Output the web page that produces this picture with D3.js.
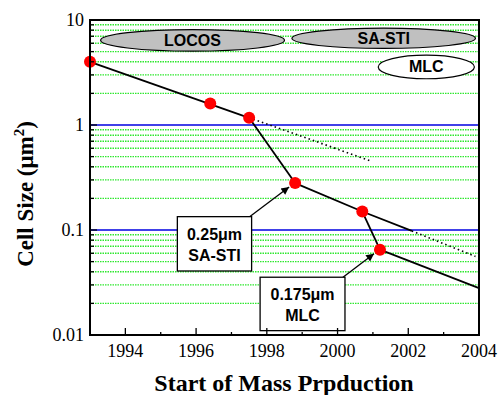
<!DOCTYPE html>
<meta charset="utf-8">
<script src="https://d3js.org/d3.v7.min.js"></script>
<style>
  body { margin: 0; background: #fff; }
  svg text { font-family: "Liberation Serif", "Times New Roman", serif; }
  .lab { font-family: "Liberation Sans", Arial, sans-serif; font-weight: bold; }
</style>
<body>
<div id="chart"></div>
<script>
// data
var years = [1993, 1996.4, 1997.5, 1998.8, 2000.7, 2001.2];
var cellSize = [4.0, 1.6, 1.17, 0.28, 0.15, 0.065];

// line segments (year, cell size)
var locosLine = [[1993, 4.0], [1997.5, 1.17]];
var locosTrend = [[1997.5, 1.17], [2000.9, 0.46]];
var step1 = [[1997.5, 1.17], [1998.8, 0.28]];
var sastiLine = [[1998.8, 0.28], [2000.7, 0.15], [2002.1, 0.098]];
var sastiTrend = [[2002.1, 0.098], [2003.9, 0.056]];
var step2 = [[2000.7, 0.15], [2001.2, 0.065]];
var mlcLine = [[2001.2, 0.065], [2004, 0.028]];

var xTicks = [1994, 1996, 1998, 2000, 2002, 2004];
var yTicks = [0.01, 0.1, 1, 10];

var margin = {top: 20, right: 21, bottom: 60, left: 90},
    width = 500 - margin.left - margin.right,
    height = 395 - margin.top - margin.bottom;

var svg = d3.select("#chart").append("svg")
    .attr("width", 500).attr("height", 395);
var g = svg.append("g")
    .attr("transform", "translate(" + margin.left + "," + margin.top + ")");

var x = d3.scaleLinear().domain([1993, 2004]).range([0, width]);
var y = d3.scaleLog().domain([0.01, 10]).range([height, 0]);

// minor grid (green dotted) and decade lines (blue)
var minor = [];
[0.01, 0.1, 1].forEach(function(d) {
  for (var m = 2; m <= 9; m++) minor.push(m * d);
});
g.selectAll(".gmin").data(minor).enter().append("line")
  .attr("x1", 0).attr("x2", width)
  .attr("y1", function(d) { return y(d); }).attr("y2", function(d) { return y(d); })
  .attr("stroke", "#2fe82f").attr("stroke-width", 1.4)
  .attr("stroke-dasharray", "1.5,1");
g.selectAll(".gmaj").data([0.1, 1]).enter().append("line")
  .attr("x1", 0).attr("x2", width)
  .attr("y1", function(d) { return y(d); }).attr("y2", function(d) { return y(d); })
  .attr("stroke", "#0000e0").attr("stroke-width", 1.4);

// lines
var line = d3.line()
  .x(function(d) { return x(d[0]); })
  .y(function(d) { return y(d[1]); });

[locosLine, step1, sastiLine, step2, mlcLine].forEach(function(s) {
  g.append("path").datum(s).attr("d", line)
    .attr("fill", "none").attr("stroke", "#000").attr("stroke-width", 1.8);
});
[locosTrend, sastiTrend].forEach(function(s) {
  g.append("path").datum(s).attr("d", line)
    .attr("fill", "none").attr("stroke", "#000").attr("stroke-width", 1.6)
    .attr("stroke-dasharray", "1.5,3");
});

// points
g.selectAll(".pt").data(years).enter().append("circle")
  .attr("cx", function(d) { return x(d); })
  .attr("cy", function(d, i) { return y(cellSize[i]); })
  .attr("r", 6).attr("fill", "#ff0000");

// ellipses
function ellipse(x0, x1, v, ry, fill, label) {
  var cx = (x(x0) + x(x1)) / 2, rx = (x(x1) - x(x0)) / 2, cy = y(v);
  g.append("ellipse").attr("cx", cx).attr("cy", cy).attr("rx", rx).attr("ry", ry)
    .attr("fill", fill).attr("stroke", "#000").attr("stroke-width", 1.2);
  g.append("text").attr("class", "lab").attr("x", cx).attr("y", cy + 5.5)
    .attr("text-anchor", "middle").style("font-size", "16px").text(label);
}
ellipse(1993.3, 1998.5, 6.4, 10.8, "#c0c0c0", "LOCOS");
ellipse(1998.71, 2003.9, 6.7, 10.2, "#c0c0c0", "SA-STI");
ellipse(2001.15, 2003.87, 3.57, 11.8, "#fff", "MLC");

// annotation boxes with arrows
var defs = svg.append("defs");
defs.append("marker").attr("id", "ah").attr("viewBox", "0 0 10 10")
  .attr("refX", 10).attr("refY", 5).attr("markerWidth", 8).attr("markerHeight", 6)
  .attr("orient", "auto")
  .append("path").attr("d", "M0,0L10,5L0,10z").attr("fill", "#000");

function note(bx0, bx1, by0, by1, tx, ty, lines) {
  var X0 = x(bx0), X1 = x(bx1), Y0 = y(by0), Y1 = y(by1);
  g.append("line").attr("x1", X1 - 2).attr("y1", Y0)
    .attr("x2", x(tx) - 6).attr("y2", y(ty) + 4)
    .attr("stroke", "#000").attr("stroke-width", 1.3).attr("marker-end", "url(#ah)");
  g.append("rect").attr("x", X0).attr("y", Y0).attr("width", X1 - X0).attr("height", Y1 - Y0)
    .attr("fill", "#fff").attr("stroke", "#000").attr("stroke-width", 1.3);
  lines.forEach(function(t, i) {
    g.append("text").attr("class", "lab").attr("x", (X0 + X1) / 2)
      .attr("y", Y0 + 23 + i * 21).attr("text-anchor", "middle")
      .style("font-size", "16px").text(t);
  });
}
note(1995.47, 1997.57, 0.134, 0.0407, 1998.8, 0.28, ["0.25\u03bcm", "SA-STI"]);
note(1997.81, 2000.21, 0.0355, 0.011, 2001.2, 0.065, ["0.175\u03bcm", "MLC"]);

// axes
g.selectAll(".ymt").data(minor).enter().append("line")
  .attr("x1", 0).attr("x2", 4)
  .attr("y1", function(d) { return y(d); }).attr("y2", function(d) { return y(d); })
  .attr("stroke", "#000").attr("stroke-width", 1.3);
g.selectAll(".yMt").data(yTicks).enter().append("line")
  .attr("x1", 0).attr("x2", 7)
  .attr("y1", function(d) { return y(d); }).attr("y2", function(d) { return y(d); })
  .attr("stroke", "#000").attr("stroke-width", 1.3);
g.selectAll(".ylab").data(yTicks).enter().append("text")
  .attr("x", -6).attr("y", function(d) { return y(d) + 6; })
  .attr("text-anchor", "end").style("font-size", "18px")
  .text(function(d) { return d; });

var xMinor = d3.range(1995, 2004, 2);
g.selectAll(".xmt").data(xMinor).enter().append("line")
  .attr("x1", function(d) { return x(d); }).attr("x2", function(d) { return x(d); })
  .attr("y1", height).attr("y2", height - 3)
  .attr("stroke", "#000").attr("stroke-width", 1.3);
g.selectAll(".xMt").data(xTicks).enter().append("line")
  .attr("x1", function(d) { return x(d); }).attr("x2", function(d) { return x(d); })
  .attr("y1", height).attr("y2", height - 7)
  .attr("stroke", "#000").attr("stroke-width", 1.3);
g.selectAll(".xlab").data(xTicks).enter().append("text")
  .attr("x", function(d) { return x(d); }).attr("y", height + 22)
  .attr("text-anchor", "middle").style("font-size", "18px")
  .text(function(d) { return d; });

// frame
g.append("rect").attr("x", 0).attr("y", 0).attr("width", width).attr("height", height)
  .attr("fill", "none").attr("stroke", "#000").attr("stroke-width", 2);

// titles
svg.append("text").attr("x", 284).attr("y", 391)
  .attr("text-anchor", "middle").style("font-size", "24px").style("font-weight", "bold")
  .text("Start of Mass Prpduction");
var yt = svg.append("text")
  .attr("transform", "translate(33,194) rotate(-90)")
  .attr("text-anchor", "middle").style("font-size", "23px").style("font-weight", "bold");
yt.append("tspan").text("Cell Size (\u03bcm");
yt.append("tspan").attr("dy", -9).style("font-size", "15px").text("2");
yt.append("tspan").attr("dy", 9).text(")");
</script>
</body>
